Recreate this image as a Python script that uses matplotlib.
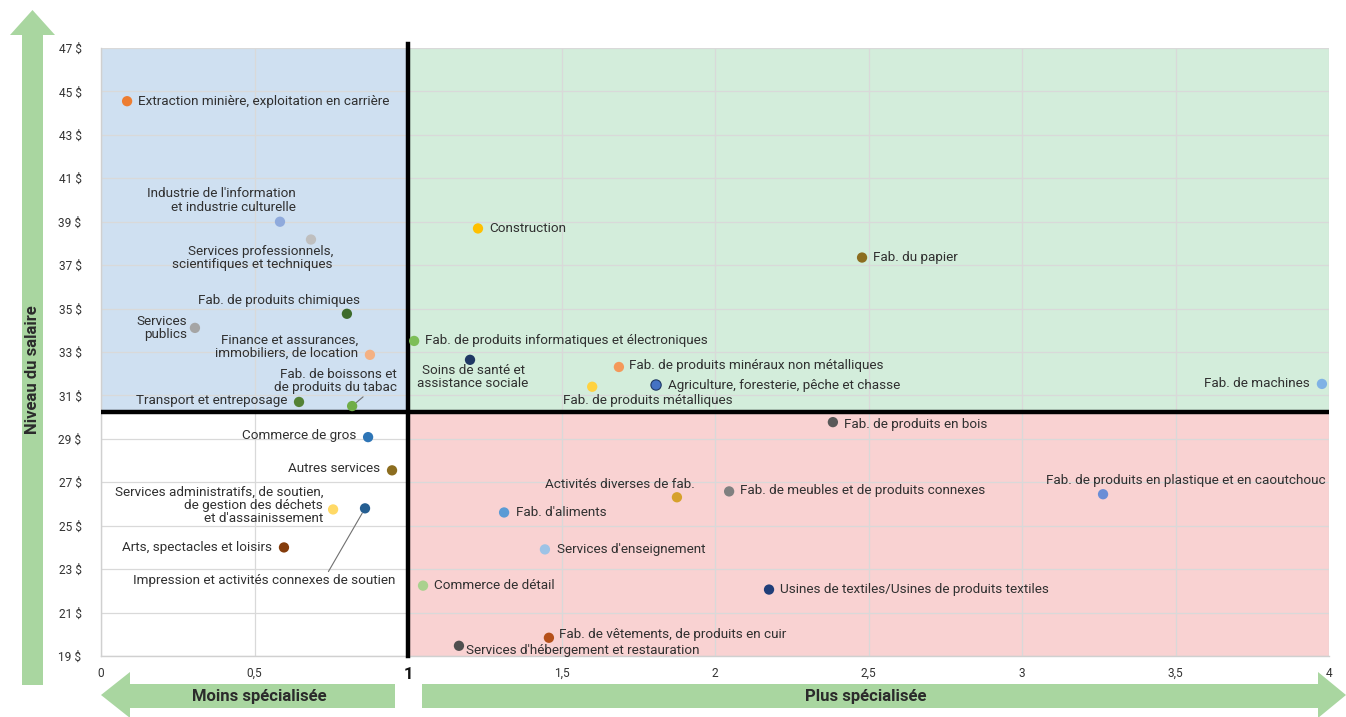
import matplotlib
matplotlib.use('Agg')
import matplotlib.pyplot as plt
from matplotlib.patches import Polygon

plt.rcParams['font.family'] = ['Roboto', 'DejaVu Sans']

# ---------------- data ----------------
industries = [
    "Extraction minière, exploitation en carrière",
    "Industrie de l'information\net industrie culturelle",
    "Services professionnels,\nscientifiques et techniques",
    "Fab. de produits chimiques",
    "Services\npublics",
    "Finance et assurances,\nimmobiliers, de location",
    "Fab. de boissons et\nde produits du tabac",
    "Transport et entreposage",
    "Commerce de gros",
    "Autres services",
    "Services administratifs, de soutien,\nde gestion des déchets\net d'assainissement",
    "Impression et activités connexes de soutien",
    "Arts, spectacles et loisirs",
    "Construction",
    "Fab. du papier",
    "Fab. de produits informatiques et électroniques",
    "Soins de santé et\nassistance sociale",
    "Fab. de produits minéraux non métalliques",
    "Fab. de produits métalliques",
    "Agriculture, foresterie, pêche et chasse",
    "Fab. de machines",
    "Fab. de produits en bois",
    "Fab. de produits en plastique et en caoutchouc",
    "Activités diverses de fab.",
    "Fab. de meubles et de produits connexes",
    "Fab. d'aliments",
    "Services d'enseignement",
    "Commerce de détail",
    "Usines de textiles/Usines de produits textiles",
    "Fab. de vêtements, de produits en cuir",
    "Services d'hébergement et restauration",
]
specialisation = [0.085, 0.583, 0.684, 0.801, 0.306, 0.876, 0.818, 0.645,
                  0.870, 0.948, 0.756, 0.860, 0.596,
                  1.228, 2.479, 1.020, 1.202, 1.687, 1.600, 1.808, 3.977,
                  2.384, 3.264, 1.876, 2.046, 1.313, 1.446, 1.049, 2.176,
                  1.459, 1.166]
salaire = [44.55, 39.00, 38.18, 34.76, 34.11, 32.87, 30.51, 30.70,
           29.08, 27.55, 25.75, 25.80, 24.00,
           38.69, 37.35, 33.51, 32.64, 32.31, 31.40, 31.48, 31.53,
           29.77, 26.45, 26.31, 26.58, 25.61, 23.91, 22.24, 22.06,
           19.84, 19.47]
colors = ["#ED7D31", "#8FAADC", "#BFBFBF", "#3D6B2C", "#A5A5A5", "#F4B183",
          "#70AD47", "#548235", "#2E75B6", "#8C6D1F", "#FFD966", "#255E91",
          "#843C0C", "#FFC000", "#8C6D1F", "#7DBE58", "#1F3864", "#F4995A",
          "#FFD23F", "#4472C4", "#7FB2E5", "#595959", "#6A8ED6", "#D6A12B",
          "#808080", "#5B9BD5", "#9DC3E6", "#A9D18E", "#203E79", "#B5501A",
          "#505050"]
edgecolors = ["none"] * len(colors)
edgecolors[19] = "#1F3864"

x_ticks = [0, 0.5, 1, 1.5, 2, 2.5, 3, 3.5, 4]
x_tick_labels = ["0", "0,5", "1", "1,5", "2", "2,5", "3", "3,5", "4"]
y_ticks = list(range(19, 48, 2))
y_tick_labels = [f"{v} $" for v in y_ticks]
seuil_x = 1.0
seuil_y = 30.25

# ---------------- label layout (offset pixels, alignment) ----------------
# (dx, dy, ha, va, leader_relpos or None)
layout = [
    (11, 0, 'left', 'center', None),
    (16, 8, 'right', 'bottom', None),
    (22, -5, 'right', 'top', None),
    (13, 7, 'right', 'bottom', None),
    (-8, 0, 'right', 'center', None),
    (-12, 8, 'right', 'center', None),
    (45, 12, 'right', 'bottom', (0.75, 0.0)),
    (-12, 1, 'right', 'center', None),
    (-12, 2, 'right', 'center', None),
    (-12, 2, 'right', 'center', None),
    (-10, 4, 'right', 'center', None),
    (30, -66, 'right', 'top', (0.74, 1.0)),
    (-12, 0, 'right', 'center', None),
    (11, 0, 'left', 'center', None),
    (11, 0, 'left', 'center', None),
    (11, 0, 'left', 'center', None),
    (3, -4, 'center', 'top', None),
    (10, 1, 'left', 'center', None),
    (56, -7, 'center', 'top', None),
    (12, 0, 'left', 'center', None),
    (-12, 0, 'right', 'center', None),
    (11, -2, 'left', 'center', None),
    (83, 14, 'center', 'center', None),
    (18, 13, 'right', 'center', None),
    (11, 1, 'left', 'center', None),
    (12, 0, 'left', 'center', None),
    (12, 0, 'left', 'center', None),
    (11, 0, 'left', 'center', None),
    (11, 0, 'left', 'center', None),
    (10, 3, 'left', 'center', None),
    (7, -5, 'left', 'center', None),
]

W, H = 1346, 717
fig = plt.figure(figsize=(W / 100, H / 100), dpi=100)
ax = fig.add_axes([101 / W, 1 - 656 / H, (1329 - 101) / W, (656 - 48) / H])

x_min, x_max = x_ticks[0], x_ticks[-1]
y_min, y_max = y_ticks[0], y_ticks[-1]
ax.set_xlim(x_min, x_max)
ax.set_ylim(y_min, y_max)

# quadrant backgrounds
ax.fill_between([x_min, seuil_x], seuil_y, y_max, color="#CFE0F1", zorder=0, lw=0)
ax.fill_between([seuil_x, x_max], seuil_y, y_max, color="#D3EDDB", zorder=0, lw=0)
ax.fill_between([seuil_x, x_max], y_min, seuil_y, color="#F9D2D2", zorder=0, lw=0)

ax.set_xticks(x_ticks)
ax.set_xticklabels(x_tick_labels)
ax.set_yticks(y_ticks)
ax.set_yticklabels(y_tick_labels)
ax.grid(True, color="#D9D9D9", lw=0.9, zorder=1)
ax.set_axisbelow(True)
ax.tick_params(length=0, labelsize=8.6, colors="#333333")
ax.tick_params(axis='x', pad=8)
ax.tick_params(axis='y', pad=14)
xl = ax.get_xticklabels()
xl[2].set_fontweight('bold')
xl[2].set_fontsize(12)
xl[2].set_color('#111111')
for s in ['top', 'right']:
    ax.spines[s].set_visible(False)
for s in ['left', 'bottom']:
    ax.spines[s].set_color("#D0D0D0")
    ax.spines[s].set_linewidth(1)

# thick threshold lines
ax.axvline(seuil_x, ymin=0, ymax=1.006, color='black', lw=3.2, zorder=3, clip_on=False)
ax.axhline(seuil_y, color='black', lw=3.2, zorder=3)

ax.scatter(specialisation, salaire, s=55, c=colors, edgecolors=edgecolors,
           linewidths=0.8, zorder=5)

for name, x, y, (dx, dy, ha, va, rel) in zip(industries, specialisation, salaire, layout):
    kw = {}
    if rel is not None:
        kw['arrowprops'] = dict(arrowstyle='-', color='#707070', lw=0.8,
                                relpos=rel, shrinkA=0, shrinkB=4)
    ax.annotate(name, (x, y), xytext=(dx, dy), textcoords='offset pixels',
                ha=ha, va=va, multialignment=ha if ha != 'center' else 'center',
                fontsize=9.7, color="#303030", zorder=6, linespacing=1.05, **kw)

# ---------------- green arrows ----------------
green = "#A9D6A0"


def P(pts):
    return [(x / W, 1 - y / H) for x, y in pts]


vert = [(22, 685), (43, 685), (43, 35), (55, 35), (32.5, 10), (10, 35), (22, 35)]
fig.add_artist(Polygon(P(vert), closed=True, color=green, transform=fig.transFigure, lw=0))
left_arr = [(395, 684), (130, 684), (130, 672), (101, 695), (130, 718), (130, 708), (395, 708)]
fig.add_artist(Polygon(P(left_arr), closed=True, color=green, transform=fig.transFigure, lw=0))
right_arr = [(422, 684), (1318, 684), (1318, 672), (1346, 695), (1318, 718), (1318, 708), (422, 708)]
fig.add_artist(Polygon(P(right_arr), closed=True, color=green, transform=fig.transFigure, lw=0))

fig.text(32.5 / W, 1 - 370 / H, "Niveau du salaire", rotation=90, ha='center', va='center',
         fontsize=12, fontweight='bold', color="#2B2B2B")
fig.text(259 / W, 1 - 697 / H, "Moins spécialisée", ha='center', va='center',
         fontsize=12, fontweight='bold', color="#2B2B2B")
fig.text(866 / W, 1 - 697 / H, "Plus spécialisée", ha='center', va='center',
         fontsize=12, fontweight='bold', color="#2B2B2B")

fig.savefig("out.png", dpi=100)
